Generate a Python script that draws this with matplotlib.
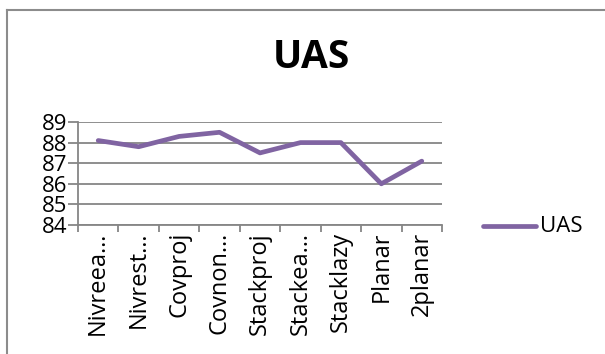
import matplotlib
matplotlib.use("Agg")
import matplotlib.pyplot as plt
from matplotlib.lines import Line2D
import numpy as np

categories = ["Nivreea…", "Nivrest…", "Covproj", "Covnon…", "Stackproj",
              "Stackea…", "Stacklazy", "Planar", "2planar"]
uas = [88.1, 87.8, 88.3, 88.5, 87.5, 88.0, 88.0, 86.0, 87.1]
y_ticks = [84, 85, 86, 87, 88, 89]

plt.rcParams['font.family'] = ['Open Sans', 'DejaVu Sans']

W, H = 605, 354
fig = plt.figure(figsize=(W / 100, H / 100), dpi=100)
ax = fig.add_axes([78 / W, 1 - 225 / H, (442 - 78) / W, (225 - 122) / H])

line_color = "#8064A2"
grid_color = "#868686"

x = np.arange(1, len(categories) + 1)
ax.plot(x, uas, color=line_color, lw=3.4, solid_joinstyle="round",
        solid_capstyle="round", zorder=3, clip_on=False)

ax.set_xlim(0.5, len(categories) + 0.5)
ax.set_ylim(84, 89)
ax.set_yticks(y_ticks)
ax.set_yticklabels([str(v) for v in y_ticks], fontsize=16)
ax.yaxis.grid(True, color=grid_color, lw=1.3)
ax.set_axisbelow(True)

ax.set_xticks(x)
ax.set_xticklabels(categories, rotation=90, fontsize=17, ha="center", va="top")
ax.set_xticks(np.arange(0.5, len(categories) + 1), minor=True)
ax.tick_params(axis="x", which="major", length=0, pad=5)
ax.tick_params(axis="x", which="minor", length=5, width=1.3, color=grid_color,
               direction="out")
ax.tick_params(axis="y", length=7, width=1.3, color=grid_color, pad=1)

for side in ("top", "right"):
    ax.spines[side].set_visible(False)
for side in ("left", "bottom"):
    ax.spines[side].set_color(grid_color)
    ax.spines[side].set_linewidth(1.3)

fig.text(311 / W, 1 - 58 / H, "UAS", fontsize=28, fontweight="bold",
         ha="center", va="center")

# legend entry
fig.add_artist(Line2D([483 / W, 536 / W], [1 - 226 / H, 1 - 226 / H],
                      color=line_color, lw=3.4, solid_capstyle="round"))
fig.text(540 / W, 1 - 226 / H, "UAS", fontsize=16, ha="left", va="center")

# chart frame
fig.add_artist(Line2D([7 / W, 1.0], [1 - 10 / H, 1 - 10 / H],
                      color="#8c8c8c", lw=1.5))
fig.add_artist(Line2D([7 / W, 7 / W], [0, 1 - 10 / H],
                      color="#8c8c8c", lw=1.5))

fig.savefig("out.png", dpi=100)
